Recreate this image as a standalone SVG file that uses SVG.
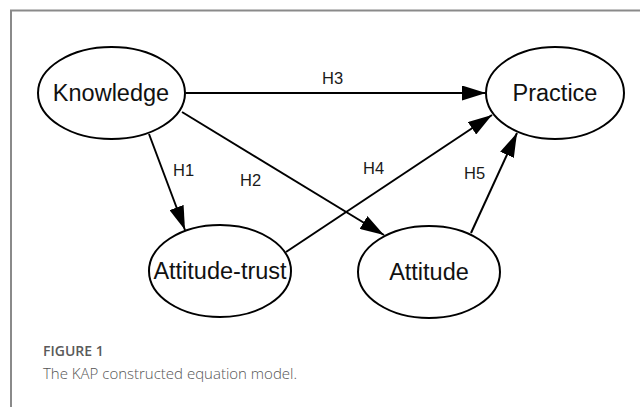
<svg xmlns="http://www.w3.org/2000/svg" width="640" height="407" viewBox="0 0 640 407">
  <defs>
    <marker id="arr" viewBox="0 0 24 15" refX="24" refY="7.5" markerWidth="24" markerHeight="15" markerUnits="userSpaceOnUse" orient="auto">
      <path d="M0,0 L24,7.5 L0,15 Z" fill="#000"/>
    </marker>
    <style>
      .node ellipse { fill: #fff; stroke: #000; stroke-width: 2; }
      .node text { font-family: "Liberation Sans", Arial, sans-serif; font-size: 23.5px; fill: #111; text-anchor: middle; }
      .edge { stroke: #000; stroke-width: 2; fill: none; marker-end: url(#arr); }
      .lbl { font-family: "Liberation Sans", Arial, sans-serif; font-size: 16.5px; fill: #1a1a1a; }
      .cap1 { font-family: "Open Sans", "Noto Sans", sans-serif; font-size: 14px; font-weight: 600; fill: #5a5a5a; }
      .cap2 { font-family: "Open Sans", "Noto Sans", sans-serif; font-size: 15px; font-weight: 300; fill: #555; }
    </style>
  </defs>
  <rect width="640" height="407" fill="#fff"/>
  <path d="M11,407 V10.5 H640" fill="none" stroke="#8a8a8a" stroke-width="2"/>

  <g id="connectors">
    <line class="edge" x1="186" y1="93" x2="486" y2="93"/>
    <line class="edge" x1="149" y1="134" x2="185" y2="230"/>
    <line class="edge" x1="182" y1="112" x2="384" y2="235"/>
    <line class="edge" x1="286" y1="252" x2="492" y2="115"/>
    <line class="edge" x1="471" y1="233" x2="517" y2="133"/>
    <text class="lbl" x="322" y="84">H3</text>
    <text class="lbl" x="173" y="176">H1</text>
    <text class="lbl" x="240" y="186">H2</text>
    <text class="lbl" x="363" y="174">H4</text>
    <text class="lbl" x="464" y="179">H5</text>
  </g>

  <g id="knowledge" class="node">
    <ellipse cx="111.5" cy="93" rx="73.5" ry="46"/>
    <text x="111" y="101">Knowledge</text>
  </g>
  <g id="practice" class="node">
    <ellipse cx="555" cy="93" rx="69" ry="46"/>
    <text x="555" y="101">Practice</text>
  </g>
  <g id="attitude-trust" class="node">
    <ellipse cx="220" cy="271" rx="71" ry="46"/>
    <text x="220" y="279">Attitude-trust</text>
  </g>
  <g id="attitude" class="node">
    <ellipse cx="429" cy="272" rx="71" ry="46"/>
    <text x="429" y="280">Attitude</text>
  </g>

  <text class="cap1" x="43" y="356">FIGURE 1</text>
  <text class="cap2" x="43" y="379">The KAP constructed equation model.</text>
</svg>
